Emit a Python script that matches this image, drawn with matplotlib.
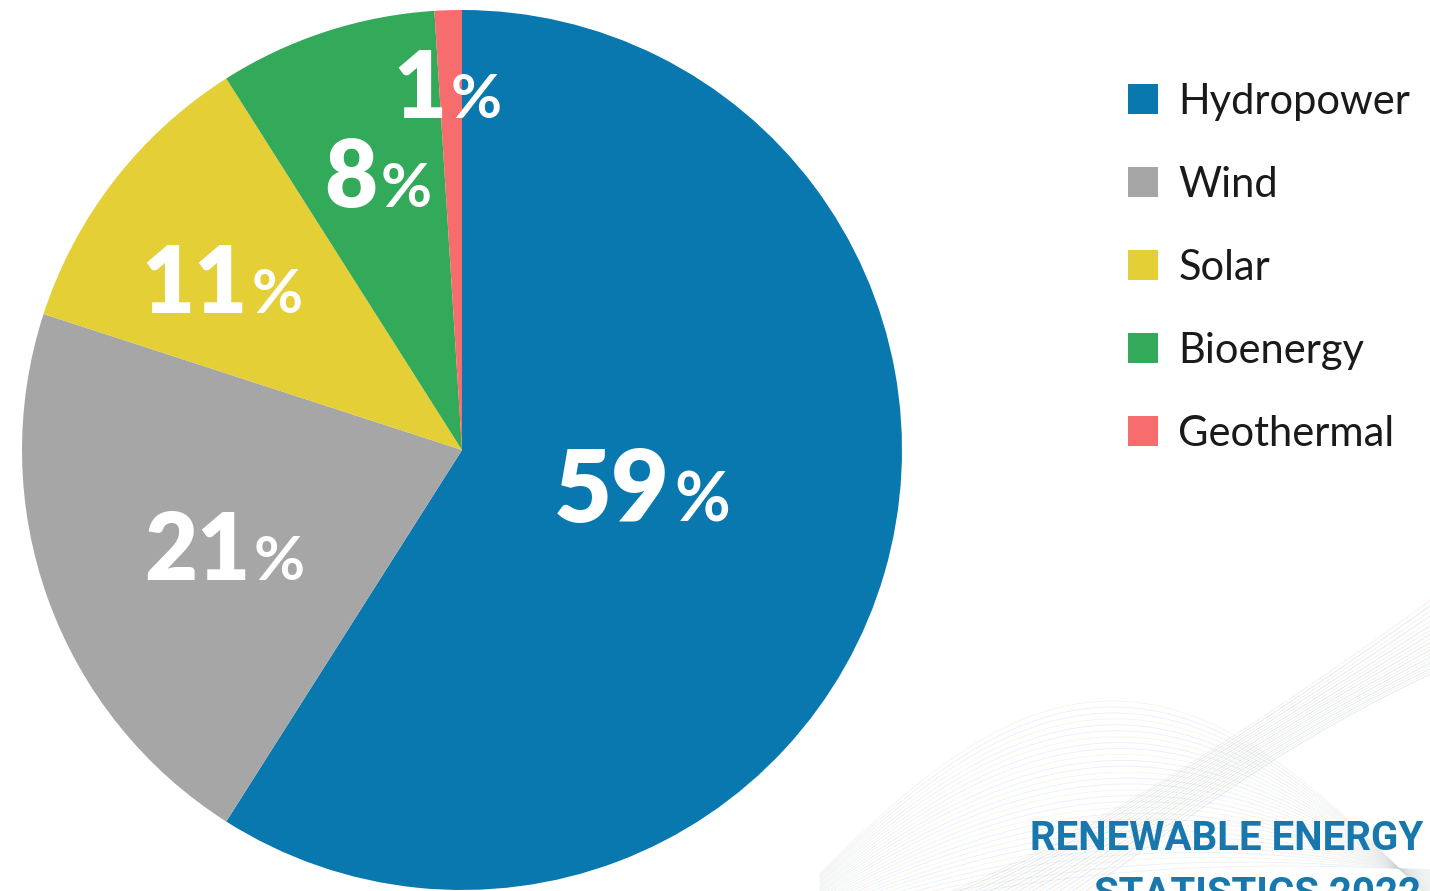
import numpy as np
import matplotlib
matplotlib.use("Agg")
import matplotlib.pyplot as plt
from matplotlib.patches import Patch

# ---- data ----
categories = ["Hydropower", "Wind", "Solar", "Bioenergy", "Geothermal"]
shares = [59, 21, 11, 8, 1]
label_numbers = ["59", "21", "11", "8", "1"]
colors = ["#0878AE", "#A6A6A6", "#E4CF36", "#33A95A", "#F76C6C"]

# label placement style (fraction of radius, angular offset in degrees, font size)
label_rfrac = [0.50, 0.565, 0.578, 0.585, 0.756]
label_dtheta = [-2.9, 11.7, 5.2, 1.3, 0.8]
label_size = [72, 66, 66, 66, 66]

W, H = 1430, 891
fig = plt.figure(figsize=(W / 100, H / 100), dpi=100)
ax = fig.add_axes([0, 0, 1, 1])

# ---- decorative background waves (bottom right) ----
t = np.linspace(0, 1, 300)
n1 = 30
for i in range(n1):
    k = i / (n1 - 1)
    amp = 230 - 200 * k
    x = 820 + 640 * t
    y = -40 + amp * np.sin(np.pi * (0.08 + 0.92 * t)) + 60 * k * t
    ax.plot(x, y, color="#C3D5E6" if i % 3 else "#EBDDBB", lw=0.6, alpha=0.35, zorder=0)
n2 = 20
for i in range(n2):
    k = i / (n2 - 1)
    x = 905 + 545 * t + 110 * k
    y = -15 + 320 * t ** 1.25 - 30 * k + 50 * np.sin(np.pi * t) * k
    ax.plot(x, y, color="#9CC0DC" if i % 2 else "#E6D3A6", lw=0.6, alpha=0.35, zorder=0)

# ---- pie ----
cx, cy, R = 462, 441, 440
wedges, _ = ax.pie(shares, colors=colors, startangle=90, counterclock=False,
                   center=(cx, cy), radius=R, frame=True,
                   wedgeprops=dict(linewidth=0))
ax.set_xlim(0, W)
ax.set_ylim(0, H)
ax.set_aspect("equal")
ax.axis("off")

# ---- labels ----
lab_font = "Lato"
for w, num, rf, dt, fs in zip(wedges, label_numbers, label_rfrac, label_dtheta, label_size):
    mid = np.deg2rad((w.theta1 + w.theta2) / 2 + dt)
    x = cx + rf * R * np.cos(mid)
    y = cy + rf * R * np.sin(mid)
    ax.text(x, y, num, ha="right", va="baseline", color="white",
            fontsize=fs, fontweight="heavy", family=lab_font, zorder=5)
    ax.text(x + 4, y, "%", ha="left", va="baseline", color="white",
            fontsize=fs * 0.68, fontweight="bold", family=lab_font, zorder=5)

# ---- legend ----
handles = [Patch(facecolor=c, edgecolor="none") for c in colors]
leg = fig.legend(handles, categories, loc="upper left",
                 bbox_to_anchor=(1111 / W, 1 - 66 / H),
                 frameon=False, handlelength=0.72, handleheight=0.72,
                 handletextpad=0.5, labelspacing=1.08, borderaxespad=0,
                 prop=dict(family="Lato", size=30))
for txt in leg.get_texts():
    txt.set_color("#1a1a1a")

# ---- footer text ----
ax.text(1423, 891 - 850, "RENEWABLE ENERGY", ha="right", va="baseline",
        color="#1877AC", fontsize=29, fontweight="bold", family="Roboto", zorder=6)
ax.text(1421, 891 - 906, "STATISTICS 2022", ha="right", va="baseline",
        color="#1877AC", fontsize=29, fontweight="bold", family="Roboto", zorder=6)

fig.savefig("out.png", dpi=100)
